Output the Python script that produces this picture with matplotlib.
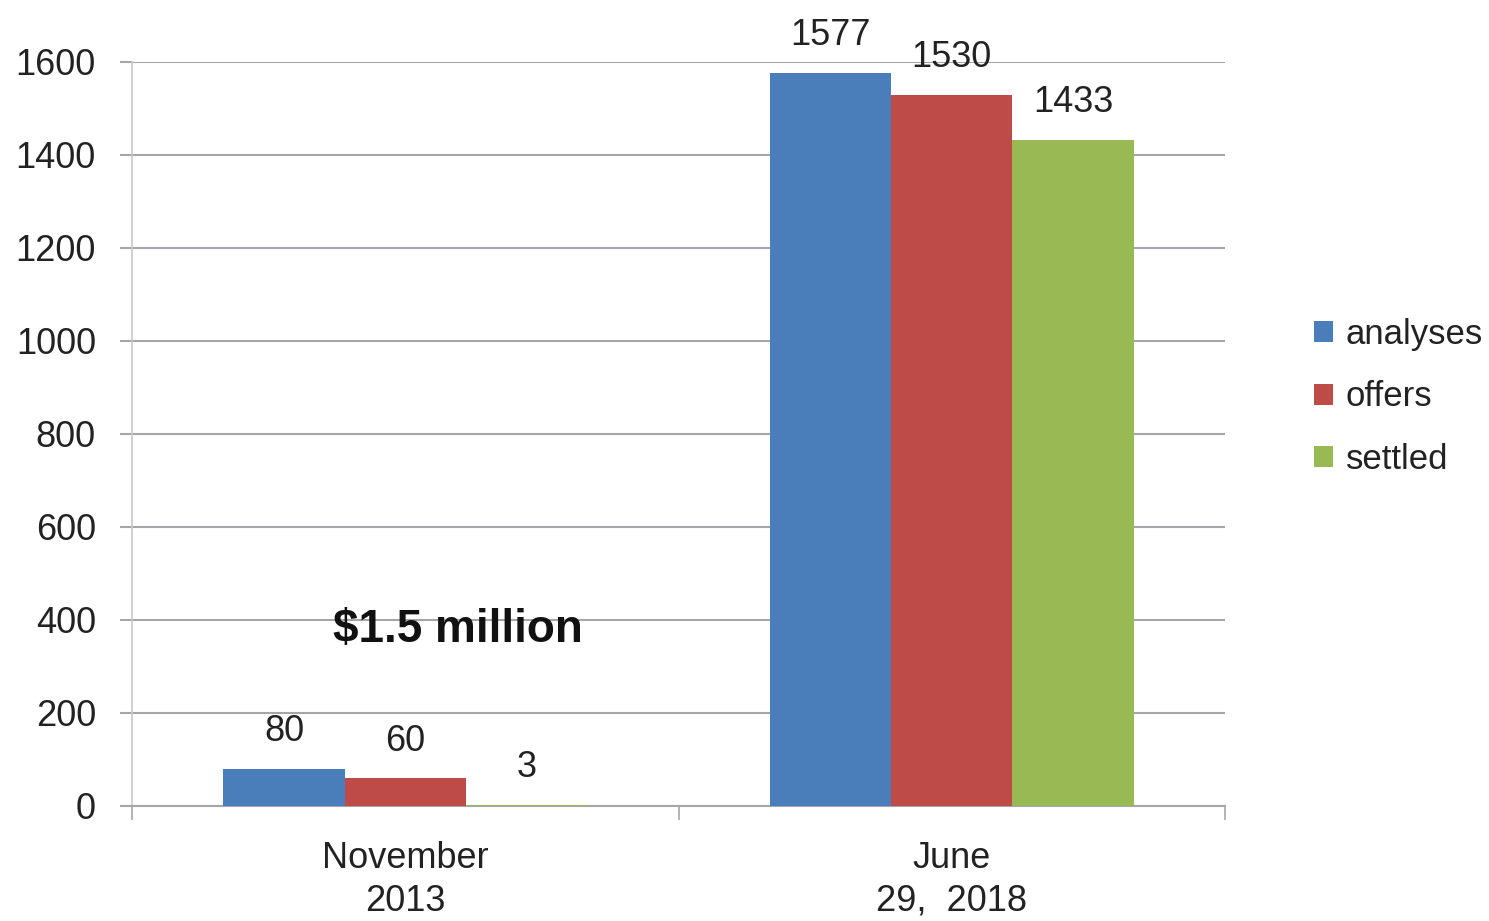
import matplotlib.pyplot as plt
import numpy as np

plt.rcParams['font.family'] = ['Liberation Sans', 'DejaVu Sans']

categories = ['November\n2013', 'June\n29,  2018']
series = ['analyses', 'offers', 'settled']
analyses = [80, 1577]
offers = [60, 1530]
settled = [3, 1433]
colors = ['#4A7EBB', '#BE4B48', '#98B954']

fig = plt.figure(figsize=(14.89, 9.21), dpi=100)
ax = fig.add_axes([0.0887, 0.1249, 0.7340, 0.8078])

x = np.arange(len(categories))
w = 0.222
for j, (vals, name) in enumerate(zip([analyses, offers, settled], series)):
    bars = ax.bar(x + (j - 1) * w, vals, w, color=colors[j], label=name, zorder=3)
    ax.bar_label(bars, labels=[str(v) for v in vals], padding=14, fontsize=26, color='#222222')

ax.set_xlim(-0.5, 1.5)
ax.set_ylim(0, 1600)
ax.set_yticks(np.arange(0, 1601, 200))
ax.yaxis.grid(True, color='#A8A4AC', linewidth=1.5, zorder=0)
ax.set_axisbelow(True)

for s in ['top', 'right']:
    ax.spines[s].set_visible(False)
ax.spines['left'].set_color('#C8C8C8')
ax.spines['left'].set_linewidth(1.2)
ax.spines['bottom'].set_color('#A8A4AC')
ax.spines['bottom'].set_linewidth(1.5)

ax.tick_params(axis='y', length=9, width=1.5, color='#A8A4AC', labelsize=26, pad=17, labelcolor='#222222')
ax.set_xticks(x)
ax.set_xticklabels(categories, fontsize=26, color='#222222', linespacing=1.3)
ax.tick_params(axis='x', which='major', length=0, pad=25)
ax.set_xticks([-0.5, 0.5, 1.5], minor=True)
ax.tick_params(axis='x', which='minor', length=10, width=1.2, color='#A8A4AC')

ax.text(0.097, 378, '$1.5 million', fontsize=33, fontweight='bold', ha='center', va='center', color='#111111')

fig.legend(loc='center left', bbox_to_anchor=(1283 / 1489, 1 - 397 / 921), frameon=False,
           fontsize=25, handlelength=0.55, handleheight=0.55, handletextpad=0.35, labelspacing=0.85,
           labelcolor='#222222')

plt.savefig('out.png', dpi=100)
